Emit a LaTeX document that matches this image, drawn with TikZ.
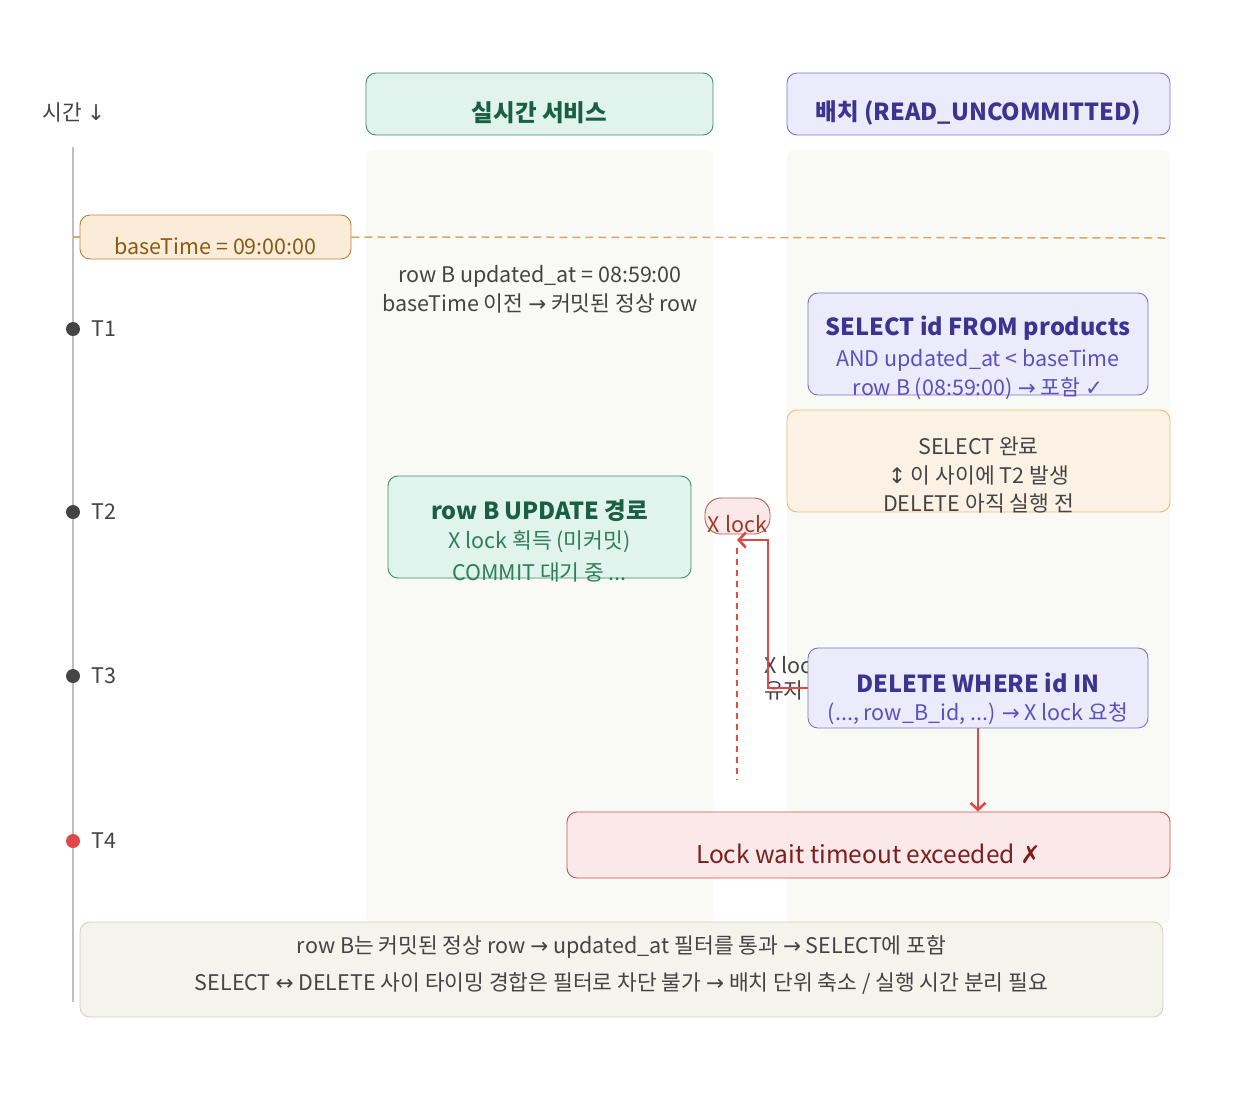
\documentclass[tikz,border=0pt]{standalone}
\usepackage{fontspec}
\setmainfont{Noto Sans CJK KR}
\newfontfamily\symfont{DejaVu Sans}
\usetikzlibrary{arrows.meta}

\definecolor{laneBg}{HTML}{F9F9F5}
\definecolor{grnFill}{HTML}{E0F3EC}
\definecolor{grnLine}{HTML}{3E8E6E}
\definecolor{grnText}{HTML}{1B5E46}
\definecolor{grnSub}{HTML}{2E7D5B}
\definecolor{purFill}{HTML}{ECEBFC}
\definecolor{purLine}{HTML}{7A72CF}
\definecolor{purText}{HTML}{3C3490}
\definecolor{purSub}{HTML}{5B50C0}
\definecolor{orgFill}{HTML}{FBECD9}
\definecolor{orgLine}{HTML}{B5853A}
\definecolor{orgText}{HTML}{8A5A14}
\definecolor{crmFill}{HTML}{FBF2E5}
\definecolor{crmLine}{HTML}{E3BE7E}
\definecolor{redFill}{HTML}{FBE9E9}
\definecolor{redLine}{HTML}{C85050}
\definecolor{redText}{HTML}{7B1E1E}
\definecolor{redArrow}{HTML}{E04848}
\definecolor{lockText}{HTML}{9A3A2A}
\definecolor{dashCol}{HTML}{D8A868}
\definecolor{txtGray}{HTML}{444444}
\definecolor{noteFill}{HTML}{F4F3EC}
\definecolor{noteLine}{HTML}{CFCFC5}

\begin{document}
\begin{tikzpicture}[x=1pt,y=-1pt,
  lane/.style={fill=laneBg, draw=none, rounded corners=8pt, minimum width=#1},
  box/.style={rounded corners=10pt, line width=0.9pt, inner sep=0pt},
  grnbox/.style={box, fill=grnFill, draw=grnLine},
  purbox/.style={box, fill=purFill, draw=purLine},
  txt/.style={inner sep=0pt, text=txtGray, font=\fontsize{21.5}{25}\selectfont},
  hdr/.style={inner sep=0pt, font=\fontsize{23.5}{27}\selectfont\bfseries},
  redarr/.style={draw=redArrow, line width=2.6pt, -{Straight Barb[length=7pt,width=15pt]}}]

  \useasboundingbox (0,0) rectangle (1244,1098);

  % lanes
  \node[lane=347, minimum height=775] (laneL) at (539.5,537) {};
  \node[lane=383, minimum height=775] (laneR) at (978.5,537) {};

  % lane headers
  \node[grnbox, minimum width=347, minimum height=62] (hdrL) at (539.5,104) {};
  \node[hdr, text=grnText] (hdrLt) at (539.5,113) {실시간 서비스};
  \node[purbox, minimum width=383, minimum height=62] (hdrR) at (978.5,104) {};
  \node[hdr, text=purText] (hdrRt) at (978.5,113) {배치 (READ\_UNCOMMITTED)};

  % time axis
  \node[txt] (tlabel) at (74,112) {시간 {\symfont↓}};
  \coordinate (axTop) at (73,147);
  \coordinate (axBot) at (73,1002);
  \draw[color=black!25, line width=2.5pt] (axTop) -- (axBot);
  \foreach \t/\y/\c in {T1/329/txtGray, T2/512/txtGray, T3/676/txtGray, T4/841/redArrow} {
      \fill[\c] (73,\y) circle (7);
      \node[txt, anchor=west] (lbl\t) at (91,\y) {\t};
    }

  % baseTime marker
  \node[box, fill=orgFill, draw=orgLine, minimum width=271, minimum height=44] (base) at (215.5,237) {};
  \node[txt, text=orgText] (baset) at (215.5,246) {baseTime = 09:00:00};
  \coordinate (baseEnd) at (1166,238);
  \draw[dashCol, line width=1.5pt] (axTop |- base.west) -- (base.west);
  \draw[dashCol, line width=1.5pt, dash pattern=on 8pt off 5pt] (base.east) -- (baseEnd);
  \node[txt] (rowB1) at (540,276) {row B updated\_at = 08:59:00};
  \node[txt] (rowB2) at (540,303) {baseTime 이전 {\symfont→} 커밋된 정상 row};

  % batch SELECT
  \node[purbox, minimum width=340, minimum height=102] (sel) at (978,344) {};
  \node[hdr, text=purText] (selt) at (978,328) {SELECT id FROM products};
  \node[txt, text=purSub] (sel2) at (978,360) {AND updated\_at < baseTime};
  \node[txt, text=purSub] (sel3) at (978,389) {row B (08:59:00) {\symfont→} 포함 {\symfont✓}};

  % gap between SELECT and DELETE
  \node[box, fill=crmFill, draw=crmLine, minimum width=383, minimum height=102] (gap) at (978.5,461) {};
  \node[txt] (gap1) at (978.5,446) {SELECT 완료};
  \node[txt] (gap2) at (978.5,475) {{\symfont↕} 이 사이에 T2 발생};
  \node[txt] (gap3) at (978.5,503) {DELETE 아직 실행 전};

  % realtime UPDATE
  \node[grnbox, minimum width=303, minimum height=102] (upd) at (539.5,527) {};
  \node[hdr, text=grnText] (updt) at (539.5,511) {row B UPDATE 경로};
  \node[txt, text=grnSub] (upd2) at (539.5,542) {X lock 획득 (미커밋)};
  \node[txt, text=grnSub] (upd3) at (539.5,572) {COMMIT 대기 중 ...};

  % held lock
  \node[box, rounded corners=16pt, fill=redFill, draw=lockText!80, minimum width=65, minimum height=36] (xlk) at (737.5,516) {};
  \node[txt, text=lockText] (xlkt) at (737.5,524) {X lock};
  \coordinate (wait0) at (737,548);
  \coordinate (wait1) at (737,780);
  \draw[redArrow!90!orange, line width=1.8pt, dash pattern=on 6pt off 5pt] (wait0) -- (wait1);
  \node[txt, align=left, anchor=north west] (hold) at (764,656) {X lock\\유지};

  % batch DELETE
  \node[purbox, minimum width=340, minimum height=80] (del) at (978,688) {};
  \node[hdr, text=purText] (delt) at (978,683) {DELETE WHERE id IN};
  \node[txt, text=purSub] (del2) at (978,714) {(..., row\_B\_id, ...) {\symfont→} X lock 요청};
  \coordinate (lockEnd) at (737,540);
  \coordinate (lockTurn) at (768,540);
  \draw[redarr] (del.west) -| (lockTurn) -- (lockEnd);

  % timeout
  \node[box, fill=redFill, draw=redLine, minimum width=603, minimum height=66] (tmo) at (868.5,845) {};
  \node[inner sep=0pt, text=redText, font=\fontsize{24.5}{28}\selectfont] (tmot) at (868.5,854) {Lock wait timeout exceeded {\symfont✗}};
  \draw[redarr] (del.south) -- (del.south |- tmo.north);

  % summary
  \node[box, fill=noteFill, draw=noteLine, minimum width=1083, minimum height=95] (note) at (621.5,969.5) {};
  \node[txt] (note1) at (621.5,947) {row B는 커밋된 정상 row {\symfont→} updated\_at 필터를 통과 {\symfont→} SELECT에 포함};
  \node[txt] (note2) at (621.5,983) {SELECT {\symfont↔} DELETE 사이 타이밍 경합은 필터로 차단 불가 {\symfont→} 배치 단위 축소 / 실행 시간 분리 필요};
\end{tikzpicture}
\end{document}
